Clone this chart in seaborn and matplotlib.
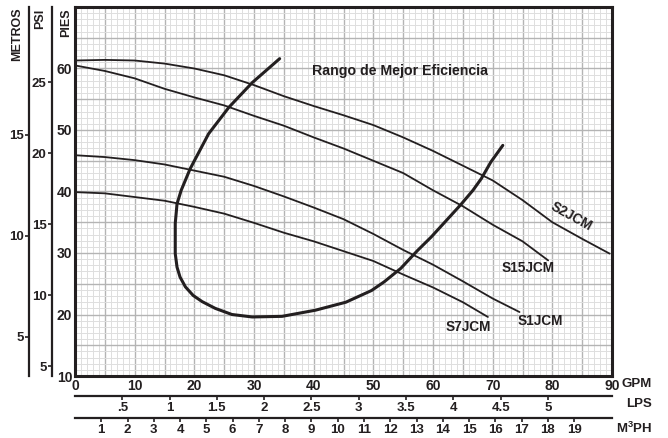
import matplotlib
matplotlib.use("Agg")
import matplotlib.pyplot as plt
from matplotlib.ticker import MultipleLocator, FuncFormatter
import seaborn as sns

# pump curves: flow (GPM) vs head (feet)
gpm_s2 = [0, 5, 10, 15, 20, 25, 30, 35, 40, 45, 50, 55, 60, 65, 70, 75, 80, 85, 89.6]
ft_s2 = [61.3, 61.4, 61.3, 60.8, 60.0, 58.9, 57.3, 55.5, 53.9, 52.4, 50.8, 48.8, 46.6, 44.2, 41.8, 38.6, 35.0, 32.3, 29.9]

gpm_s15 = [0, 5, 10, 15, 20, 25, 30, 35, 40, 45, 50, 55, 60, 65, 70, 75, 79.3]
ft_s15 = [60.5, 59.6, 58.4, 56.7, 55.3, 54.0, 52.3, 50.7, 48.8, 47.0, 45.0, 43.0, 40.2, 37.6, 34.6, 31.9, 28.8]

gpm_s1 = [0, 5, 10, 15, 20, 25, 30, 35, 40, 45, 50, 55, 60, 65, 70, 74.5]
ft_s1 = [45.9, 45.6, 45.1, 44.4, 43.4, 42.4, 40.9, 39.2, 37.4, 35.5, 33.1, 30.5, 28.1, 25.4, 22.6, 20.4]

gpm_s7 = [0, 5, 10, 15, 20, 25, 30, 35, 40, 45, 50, 55, 60, 65, 69.2]
ft_s7 = [39.9, 39.7, 39.1, 38.5, 37.5, 36.4, 34.9, 33.3, 31.9, 30.3, 28.7, 26.5, 24.4, 22.0, 19.6]

# best efficiency range boundary
gpm_bep = [71.7, 69.7, 68.1, 66.7, 64.6, 63.0, 59.7, 57.4, 54.6, 51.8, 49.7, 45.4, 40.3, 34.7,
           29.7, 26.3, 23.5, 21.3, 19.8, 18.5, 17.6, 17.1, 16.8, 16.8, 17.1, 17.8, 19.3, 22.4,
           25.8, 29.7, 34.3]
ft_bep = [47.5, 44.8, 42.1, 40.2, 37.8, 36.1, 32.6, 30.4, 27.5, 25.3, 23.9, 22.0, 20.7, 19.7,
          19.6, 20.0, 21.0, 22.1, 23.1, 24.5, 26.1, 27.7, 29.9, 34.8, 38.0, 40.2, 43.7, 49.4,
          53.7, 57.7, 61.6]

lps_ticks = [0.5, 1, 1.5, 2, 2.5, 3, 3.5, 4, 4.5, 5]
lps_labels = ['.5', '1', '1.5', '2', '2.5', '3', '3.5', '4', '4.5', '5']
m3h_ticks = list(range(1, 20))
psi_ticks = [5, 10, 15, 20, 25]
metros_ticks = [5, 10, 15]

sns.set_style("white")
plt.rcParams['font.family'] = ['Liberation Sans', 'DejaVu Sans']
plt.rcParams['font.weight'] = 'bold'
plt.rcParams['mathtext.fontset'] = 'custom'
plt.rcParams['mathtext.bf'] = 'Liberation Sans:bold'
plt.rcParams['mathtext.rm'] = 'Liberation Sans:bold'
ink = '#231f20'

fig = plt.figure(figsize=(6.68, 4.38), dpi=100)
ax = fig.add_axes([75/668, 1-376/438, 537/668, 369/438])

for g, f in [(gpm_s2, ft_s2), (gpm_s15, ft_s15), (gpm_s1, ft_s1), (gpm_s7, ft_s7)]:
    sns.lineplot(x=g, y=f, ax=ax, color=ink, linewidth=1.3, sort=False, estimator=None)
sns.lineplot(x=gpm_bep, y=ft_bep, ax=ax, color=ink, linewidth=2.2, sort=False, estimator=None)

ax.set_xlim(0, 90)
ax.set_ylim(10, 70)
ax.xaxis.set_major_locator(MultipleLocator(5))
ax.yaxis.set_major_locator(MultipleLocator(5))
ax.xaxis.set_minor_locator(MultipleLocator(1))
ax.yaxis.set_minor_locator(MultipleLocator(1))
ax.xaxis.set_major_formatter(FuncFormatter(lambda v, p: f"{v:.0f}" if v % 10 == 0 else ""))
ax.yaxis.set_major_formatter(FuncFormatter(lambda v, p: f"{v:.0f}" if v % 10 == 0 and v < 70 else ""))
ax.grid(which='major', color='#b4b4b4', linewidth=1.0)
ax.grid(which='minor', color='#dedede', linewidth=0.7)
ax.set_axisbelow(True)
ax.tick_params(which='both', length=0, labelsize=10, pad=2, colors=ink)
for s in ax.spines.values():
    s.set_visible(True)
    s.set_linewidth(2.2)
    s.set_color(ink)
ax.set_xlabel('')
ax.set_ylabel('')

# extra scales
psi = ax.secondary_yaxis(-23/537, functions=(lambda f: f/2.31, lambda p: p*2.31))
psi.set_yticks(psi_ticks)
met = ax.secondary_yaxis(-46/537, functions=(lambda f: f/3.281, lambda m: m*3.281))
met.set_yticks(metros_ticks)
for sa in (psi, met):
    for s in sa.spines.values():
        s.set_linewidth(1.6)
        s.set_color(ink)
    sa.tick_params(axis='y', direction='out', length=3, width=1.2, labelsize=9.5, pad=1, colors=ink)

lps = ax.secondary_xaxis(-20/369, functions=(lambda g: g/15.85, lambda l: l*15.85))
lps.set_xticks(lps_ticks)
lps.set_xticklabels(lps_labels)
m3h = ax.secondary_xaxis(-42/369, functions=(lambda g: g/4.403, lambda m: m*4.403))
m3h.set_xticks(m3h_ticks)
for sa in (lps, m3h):
    for s in sa.spines.values():
        s.set_linewidth(1.6)
        s.set_color(ink)
    sa.tick_params(axis='x', direction='out', length=3, width=1.2, labelsize=9.5, pad=1, colors=ink)

# texts
ax.text(54.5, 59.6, 'Rango de Mejor Eficiencia', fontsize=10.2, fontweight='bold', ha='center', va='center', color=ink)
ax.text(83.2, 35.9, 'S2JCM', fontsize=9.8, fontweight='bold', ha='center', va='center', rotation=-29, color=ink)
ax.text(75.9, 27.5, 'S15JCM', fontsize=9.8, fontweight='bold', ha='center', va='center', color=ink)
ax.text(78.0, 18.9, 'S1JCM', fontsize=9.8, fontweight='bold', ha='center', va='center', color=ink)
ax.text(65.9, 18.0, 'S7JCM', fontsize=9.8, fontweight='bold', ha='center', va='center', color=ink)

fig.text(652/668, 1-384/438, 'GPM', fontsize=9.5, fontweight='bold', ha='right', va='center', color=ink)
fig.text(652/668, 1-404/438, 'LPS', fontsize=9.5, fontweight='bold', ha='right', va='center', color=ink)
fig.text(652/668, 1-428/438, r'M$^{\mathbf{3}}$PH', fontsize=9.5, fontweight='bold', ha='right', va='center', color=ink)
fig.text(17/668, 1-34/438, 'METROS', fontsize=9, fontweight='bold', rotation=90, ha='center', va='center', color=ink)
fig.text(40/668, 1-19/438, 'PSI', fontsize=9, fontweight='bold', rotation=90, ha='center', va='center', color=ink)
fig.text(66/668, 1-23/438, 'PIES', fontsize=9, fontweight='bold', rotation=90, ha='center', va='center', color=ink)

fig.savefig('out.png', dpi=100)
